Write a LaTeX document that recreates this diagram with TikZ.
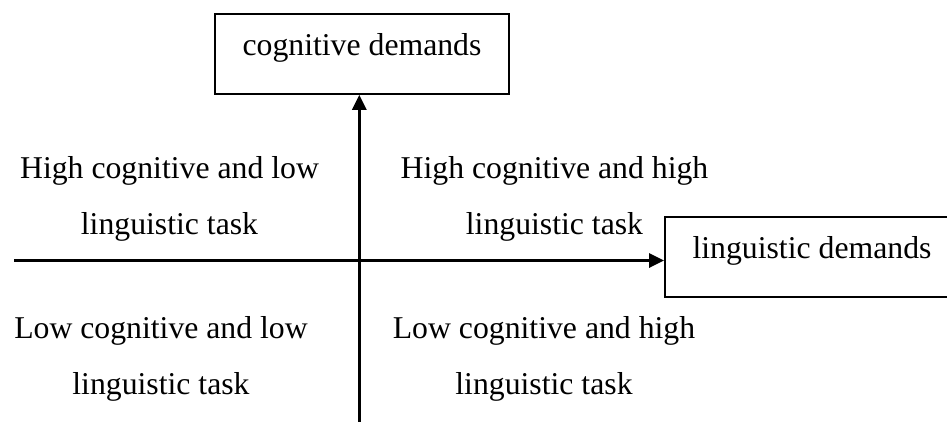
\documentclass[tikz,border=0pt]{standalone}
\usepackage{fontspec}
\setmainfont{Liberation Serif}
\usepackage{tikz}
\usetikzlibrary{arrows.meta}

\tikzset{
  demandbox/.style={draw,line width=0.75pt,inner sep=0pt,minimum width=110.25pt,
    text height=15.4pt,text depth=14.6pt,anchor=base},
  quadtext/.style={align=center,inner sep=0pt},
  axis/.style={line width=1pt,-{Triangle[length=5.6pt,width=5.3pt]}}
}

\begin{document}
\begin{tikzpicture}[x=0.375pt,y=-0.375pt,font=\fontsize{11.9pt}{21pt}\selectfont]
\useasboundingbox (0,0) rectangle (947,421);
\node[demandbox] (cog) at (362,55) {cognitive demands};
\node[demandbox] (ling) at (812,258) {linguistic demands};
\node[quadtext] (HL) at (169.5,198.7) {High cognitive and low\\linguistic task};
\node[quadtext] (HH) at (554.5,198.7) {High cognitive and high\\linguistic task};
\node[quadtext] (LL) at (161,358.7) {Low cognitive and low\\linguistic task};
\node[quadtext] (LH) at (544,358.7) {Low cognitive and high\\linguistic task};
\coordinate (vbot) at (359.3,425);
\coordinate (hleft) at (14,260.5);
\draw[axis] (vbot) -- (vbot |- cog.south);
\draw[axis] (hleft) -- (hleft -| ling.west);
\end{tikzpicture}
\end{document}
